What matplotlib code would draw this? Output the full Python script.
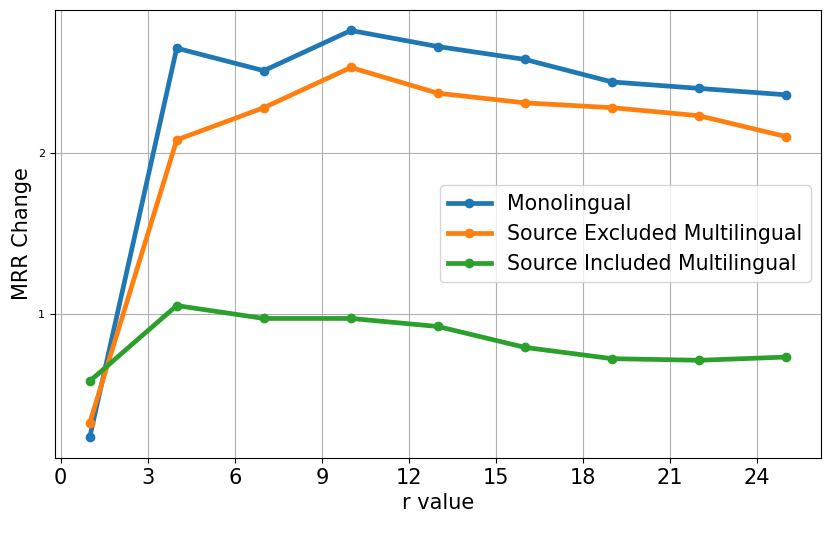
import numpy as np
import matplotlib
matplotlib.use("Agg")
import matplotlib.pyplot as plt

# r values and MRR change per setting
r = [1, 4, 7, 10, 13, 16, 19, 22, 25]
mono = [0.23, 2.65, 2.51, 2.76, 2.66, 2.58, 2.44, 2.40, 2.36]
src_excl = [0.32, 2.08, 2.28, 2.53, 2.37, 2.31, 2.28, 2.23, 2.10]
src_incl = [0.58, 1.05, 0.97, 0.97, 0.92, 0.79, 0.72, 0.71, 0.73]

labels = ['Monolingual', 'Source Excluded Multilingual', 'Source Included Multilingual']
y_ticks = [1, 2]
x_ticks = [0, 3, 6, 9, 12, 15, 18, 21, 24]

fig, ax = plt.subplots(figsize=(8.31, 5.33), dpi=100)
fig.subplots_adjust(left=0.066, right=0.988, top=0.981, bottom=0.141)

for ys, lab in zip([mono, src_excl, src_incl], labels):
  ax.plot(r, ys, marker='o', linewidth=3.4, markersize=6, label=lab)

ax.set_xticks(x_ticks)
ax.set_yticks(y_ticks)
ax.tick_params(axis='x', labelsize=15)
ax.tick_params(axis='y', labelsize=8)
ax.set_xlabel('r value', fontsize=15)
ax.set_ylabel('MRR Change', fontsize=15)
ax.grid(True)
ax.legend(loc='center right', fontsize=14.8, handlelength=2.1)

fig.savefig('out.png', dpi=100)
